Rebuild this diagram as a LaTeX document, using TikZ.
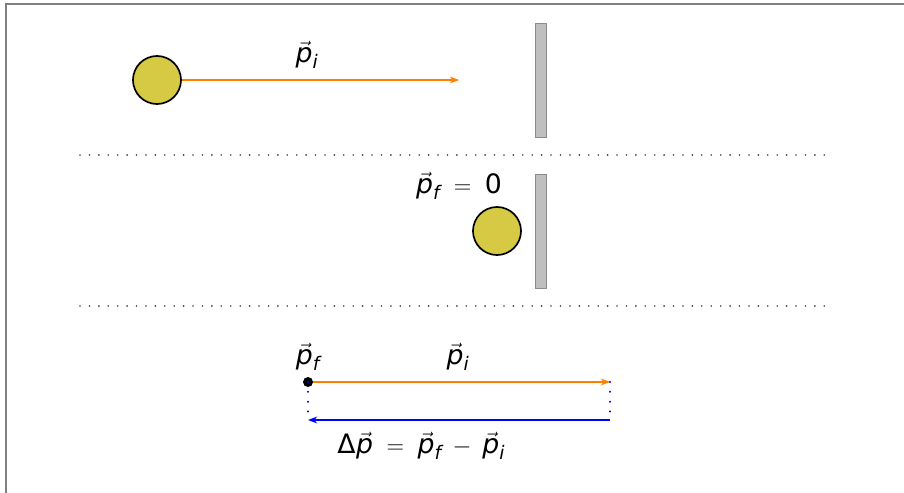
\documentclass[tikz,border=0pt]{standalone}
\usepackage{mathspec}
\setmainfont{DejaVu Sans}
\setmathsfont(Digits,Latin,Greek){DejaVu Sans}
\usetikzlibrary{positioning, arrows.meta}
\definecolor{ballyellow}{HTML}{D6C944}
\definecolor{wallgray}{HTML}{BFBFBF}
\definecolor{pinorange}{HTML}{FF8000}

\begin{document}
\begin{tikzpicture}[
      x=0.025cm, y=-0.025cm,
      every node/.style={font=\fontsize{19}{22}\selectfont},
      ball/.style={circle, draw, line width=1.2pt, fill=ballyellow, minimum size=1.2cm, inner sep=0pt},
      wall/.style={draw=gray!90, fill=wallgray, minimum width=0.28cm, minimum height=2.85cm, inner sep=0pt},
      sepline/.style={draw=black!75, line width=1.3pt, line cap=round, dash pattern=on 0pt off 6.7pt},
      linkline/.style={draw=blue, line width=1.6pt, line cap=round, dash pattern=on 0pt off 7pt},
      >=Stealth,
    ]
    \useasboundingbox (0,0) rectangle (904,493);
    \draw[gray, line width=1.3pt] (6,520) -- (6,4) -- (930,4);

    % before the collision
    \node[ball] (b1) at (157,80) {};
    \coordinate (h1) at (459,80);
    \node[wall] (w1) at (540.5,80) {};
    \draw[->, thick, pinorange] (b1) -- (h1);
    \node (pi1) at (307,55) {$\vec{p}_i$};

    \draw[sepline] (80,155) -- (830,155);

    % after the collision
    \node[ball] (b2) at (497,231) {};
    \node[wall] (w2) at (540.5,231) {};
    \node (pf2) at (459,186) {$\vec{p}_f\;=\;0$};

    \draw[sepline] (80,306) -- (830,306);

    % change of momentum
    \node[circle, fill, inner sep=0pt, minimum size=0.25cm] (o) at (308,382) {};
    \coordinate (a) at (610,382);
    \coordinate (c) at (610,420);
    \coordinate (d) at (308,420);
    \node (pf3) at (308,357) {$\vec{p}_f$};
    \node (pi3) at (458,357) {$\vec{p}_i$};
    \draw[->, thick, pinorange] (o) -- (a);
    \draw[linkline] (o.center) -- (d);
    \draw[linkline] (a) -- (c);
    \draw[->, thick, blue] (c) -- (d);
    \node (dp) at (421,446) {$\Delta\vec{p}\;=\;\vec{p}_f\:-\:\vec{p}_i$};
  \end{tikzpicture}
\end{document}
